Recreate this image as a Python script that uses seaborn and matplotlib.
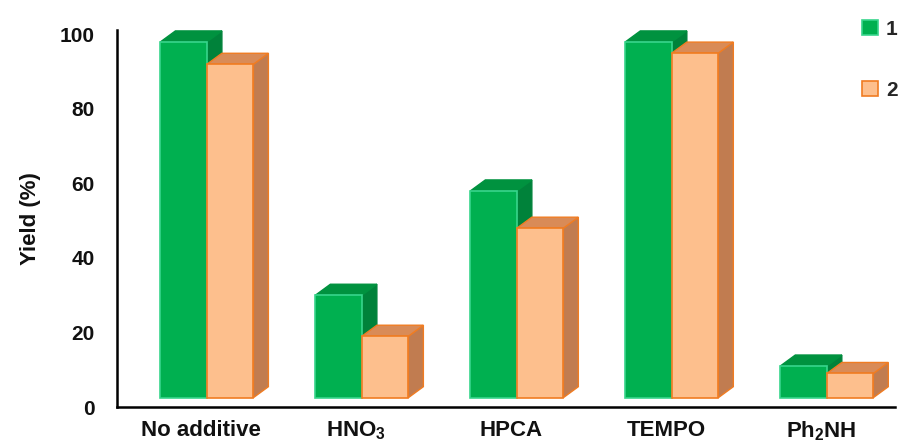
import matplotlib
matplotlib.use("Agg")
import matplotlib.pyplot as plt
import matplotlib.transforms as mtransforms
from matplotlib.patches import Polygon, Patch
import pandas as pd
import seaborn as sns

# Yield data for each additive and each product series
categories = ["No additive", "HNO$_3$", "HPCA", "TEMPO", "Ph$_2$NH"]
series_names = ["1", "2"]
yield_1 = [98, 30, 58, 98, 11]
yield_2 = [92, 19, 48, 95, 9]
y_ticks = [0, 20, 40, 60, 80, 100]

# Face colours for the pseudo-3D columns
front_colors = {"1": "#00B050", "2": "#FDBF8D"}
edge_colors = {"1": "#38D58C", "2": "#F07C22"}
top_colors = {"1": "#00923F", "2": "#D98B57"}
side_colors = {"1": "#00823A", "2": "#C17C50"}

sns.set_theme(style="white")
plt.rcParams["font.family"] = ["Liberation Sans", "DejaVu Sans"]
plt.rcParams["font.weight"] = "bold"
plt.rcParams["mathtext.fontset"] = "custom"
plt.rcParams["mathtext.rm"] = "Liberation Sans:bold"
plt.rcParams["mathtext.bf"] = "Liberation Sans:bold"
plt.rcParams["mathtext.default"] = "bf"

df = pd.DataFrame({
    "additive": categories * 2,
    "series": [series_names[0]] * len(categories) + [series_names[1]] * len(categories),
    "yield": yield_1 + yield_2,
})

W, H = 900, 444
fig = plt.figure(figsize=(W / 100, H / 100), dpi=100)
ax_left, ax_right, ax_top, ax_bottom = 117, 895, 30, 407
ax = fig.add_axes([ax_left / W, 1 - ax_bottom / H,
                   (ax_right - ax_left) / W, (ax_bottom - ax_top) / H])

sns.barplot(data=df, x="additive", y="yield", hue="series", order=categories,
            hue_order=series_names, palette=front_colors, saturation=1,
            width=0.6, ax=ax, legend=False)

xlim = (-0.58, 4.44)
ylim = (0, 101.2)
ax.set_xlim(*xlim)
ax.set_ylim(*ylim)

# depth of the 3D extrusion, converted from pixels to data units
px_x = (ax_right - ax_left) / (xlim[1] - xlim[0])
px_y = (ax_bottom - ax_top) / (ylim[1] - ylim[0])
depth_dx = 15 / px_x
depth_dy = 11 / px_y
floor = 2.5

for i, (name, container) in enumerate(zip(series_names, ax.containers)):
    z = 2 + i
    for bar in container:
        x0 = bar.get_x()
        w = bar.get_width()
        top = bar.get_height()
        bar.set_y(floor)
        bar.set_height(top - floor)
        bar.set_edgecolor(edge_colors[name])
        bar.set_linewidth(1.2)
        bar.set_zorder(z + 0.2)
        top_face = Polygon([(x0, top), (x0 + w, top),
                            (x0 + w + depth_dx, top + depth_dy),
                            (x0 + depth_dx, top + depth_dy)],
                           closed=True, facecolor=top_colors[name],
                           edgecolor=edge_colors[name] if name == "2" else top_colors[name],
                           linewidth=1.0, zorder=z + 0.1)
        side_face = Polygon([(x0 + w, floor), (x0 + w + depth_dx, floor + depth_dy),
                             (x0 + w + depth_dx, top + depth_dy), (x0 + w, top)],
                            closed=True, facecolor=side_colors[name],
                            edgecolor=edge_colors[name] if name == "2" else side_colors[name],
                            linewidth=1.0, zorder=z)
        ax.add_patch(side_face)
        ax.add_patch(top_face)

# axes styling
sns.despine(ax=ax)
for s in ("left", "bottom"):
    ax.spines[s].set_color("black")
    ax.spines[s].set_linewidth(1.8)
ax.set_yticks(y_ticks)
ax.tick_params(axis="y", length=0, pad=16, labelsize=15, labelcolor="#111111")
ax.tick_params(axis="x", length=0, pad=9, labelsize=16, labelcolor="#111111")
ax.set_xlabel("")
ax.set_ylabel("Yield (%)", fontsize=16, fontweight="bold", color="#111111")
ax.yaxis.set_label_coords(-0.098, 0.5)

shift = mtransforms.ScaledTranslation(-6 / 100, 0, fig.dpi_scale_trans)
for lab in ax.get_xticklabels():
    lab.set_transform(lab.get_transform() + shift)

handles = [Patch(facecolor=front_colors[n], edgecolor=edge_colors[n], linewidth=1.2)
           for n in series_names]
fig.legend(handles, series_names, loc="upper left",
           bbox_to_anchor=(862 / W, 1 - 20 / H), frameon=False, borderpad=0,
           borderaxespad=0, handlelength=0.75, handleheight=0.7, handletextpad=0.4,
           labelspacing=2.0, prop={"size": 15, "weight": "bold"})

fig.savefig("out.png", dpi=100)
